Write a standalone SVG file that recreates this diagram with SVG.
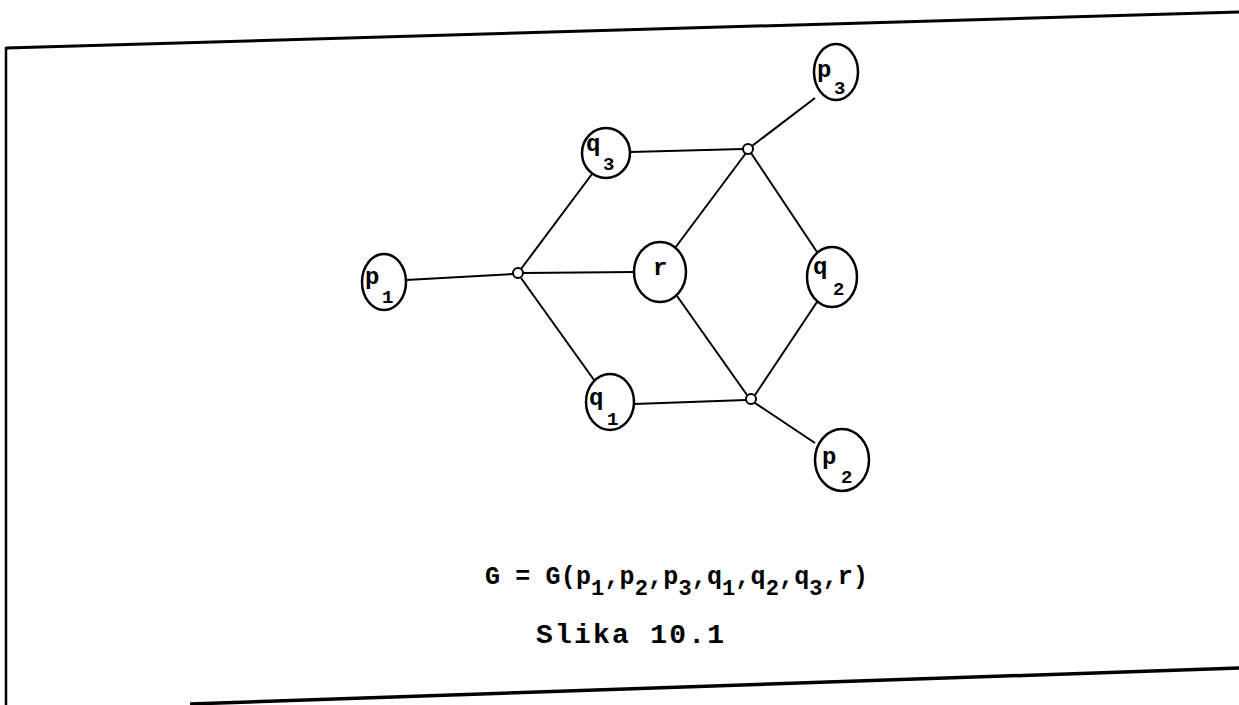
<svg xmlns="http://www.w3.org/2000/svg" width="1239" height="705" viewBox="0 0 1239 705">
<style>
.n{fill:#fff;stroke:#000;stroke-width:2.5}
.j{fill:#fff;stroke:#000;stroke-width:2}
.e line{stroke:#000;stroke-width:2}
.l{font-family:"Liberation Mono",monospace;font-weight:bold;font-size:24px;fill:#000}
.s{font-family:"Liberation Mono",monospace;font-weight:bold;font-size:19px;fill:#000}
.t{font-family:"Liberation Mono",monospace;font-weight:bold;font-size:25px;fill:#000}
.u{font-size:22px}
</style>
<rect width="1239" height="705" fill="#fff"/>
<g id="frame" fill="none" stroke="#000">
<path d="M6,48 L1239,12" stroke-width="3"/>
<path d="M6,47 L6,705" stroke-width="2.5"/>
<path d="M190,704 L1239,668" stroke-width="3.5"/>
</g>
<g id="connectors" class="e">
<line x1="406" y1="280" x2="514" y2="274"/>
<line x1="521" y1="269" x2="592" y2="174"/>
<line x1="523" y1="273" x2="634" y2="272"/>
<line x1="521" y1="278" x2="594" y2="380"/>
<line x1="630" y1="152" x2="743" y2="149"/>
<line x1="752" y1="146" x2="815" y2="98"/>
<line x1="746" y1="153" x2="675" y2="248"/>
<line x1="751" y1="153" x2="817" y2="252"/>
<line x1="634" y1="404" x2="746" y2="400"/>
<line x1="747" y1="395" x2="677" y2="296"/>
<line x1="755" y1="395" x2="817" y2="302"/>
<line x1="755" y1="403" x2="815" y2="443"/>
</g>
<g id="J1"><circle class="j" cx="518" cy="273" r="5"/></g>
<g id="J2"><circle class="j" cx="748" cy="149" r="5"/></g>
<g id="J3"><circle class="j" cx="751" cy="399" r="5"/></g>
<g id="p1"><ellipse class="n" cx="384" cy="282" rx="22" ry="28"/><text class="l" x="365" y="284">p</text><text class="s" x="382" y="303">1</text></g>
<g id="q3"><ellipse class="n" cx="606" cy="153" rx="24" ry="25"/><text class="l" x="586" y="151">q</text><text class="s" x="603" y="170">3</text></g>
<g id="p3"><ellipse class="n" cx="836" cy="72" rx="22" ry="28"/><text class="l" x="817" y="77">p</text><text class="s" x="834" y="94">3</text></g>
<g id="r"><ellipse class="n" cx="660" cy="272" rx="26" ry="30"/><text class="l" x="653" y="275">r</text></g>
<g id="q2"><ellipse class="n" cx="832" cy="277" rx="25" ry="30"/><text class="l" x="813" y="274">q</text><text class="s" x="833" y="295">2</text></g>
<g id="q1"><ellipse class="n" cx="610" cy="402" rx="24" ry="28"/><text class="l" x="589" y="405">q</text><text class="s" x="607" y="425">1</text></g>
<g id="p2"><ellipse class="n" cx="842" cy="460" rx="27" ry="31"/><text class="l" x="822" y="464">p</text><text class="s" x="841" y="483">2</text></g>
<g id="caption">
<text class="t" x="485" y="584" textLength="383" lengthAdjust="spacing">G = G(p<tspan class="u" dy="11">1</tspan><tspan dy="-11">,p</tspan><tspan class="u" dy="11">2</tspan><tspan dy="-11">,p</tspan><tspan class="u" dy="11">3</tspan><tspan dy="-11">,q</tspan><tspan class="u" dy="11">1</tspan><tspan dy="-11">,q</tspan><tspan class="u" dy="11">2</tspan><tspan dy="-11">,q</tspan><tspan class="u" dy="11">3</tspan><tspan dy="-11">,r)</tspan></text>
<text class="t" x="536" y="643" font-size="28" textLength="188" lengthAdjust="spacing" style="font-size:28px">Slika 10.1</text>
</g>
</svg>
